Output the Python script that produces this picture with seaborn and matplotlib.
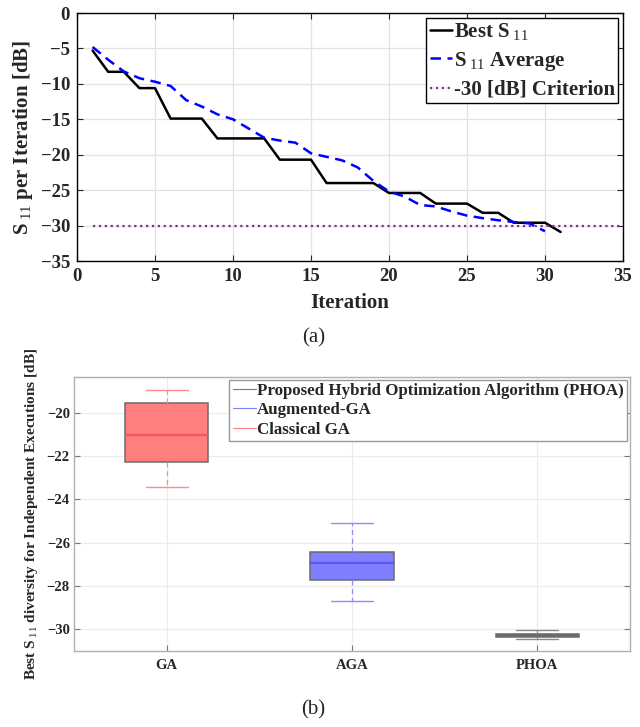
import numpy as np
import pandas as pd
import matplotlib
matplotlib.use("Agg")
import matplotlib.pyplot as plt
from matplotlib.lines import Line2D
import seaborn as sns

# ---- convergence history (panel a) ----
iterations = list(range(1, 32))
best_s11 = [-5.3, -8.3, -8.3, -10.6, -10.6, -14.9, -14.9, -14.9, -17.7, -17.7,
             -17.7, -17.7, -20.7, -20.7, -20.7, -24.0, -24.0, -24.0, -24.0, -25.4,
             -25.4, -25.4, -26.9, -26.9, -26.9, -28.2, -28.2, -29.6, -29.6, -29.6,
             -30.9]
avg_iterations = list(range(1, 31))
avg_s11 = [-4.8, -6.6, -8.25, -9.2, -9.7, -10.3, -12.3, -13.2, -14.3, -15.0,
           -16.3, -17.6, -18.0, -18.3, -19.8, -20.3, -20.8, -21.8, -23.7, -25.2,
           -25.9, -27.1, -27.3, -28.0, -28.6, -28.95, -29.25, -29.5, -29.7, -30.8]
criterion_span = [1, 35]
criterion_level = -30

# ---- spread of best S11 over independent runs (panel b) ----
algorithms = ["GA", "AGA", "PHOA"]
ga_runs = [-23.42, -22.27, -21.05, -19.57, -18.93]
aga_runs = [-28.67, -27.74, -26.92, -26.45, -25.10]
phoa_runs = [-30.45, -30.36, -30.28, -30.22, -30.03]
legend_names = ["Proposed Hybrid Optimization Algorithm (PHOA)",
                "Augmented-GA", "Classical GA"]

sns.set_style("ticks")
plt.rcParams["font.family"] = ["Liberation Serif", "DejaVu Serif"]
plt.rcParams["mathtext.fontset"] = "custom"
plt.rcParams["mathtext.rm"] = "Liberation Serif"
plt.rcParams["mathtext.it"] = "Liberation Serif:italic"
plt.rcParams["mathtext.bf"] = "Liberation Serif:bold"
plt.rcParams["mathtext.default"] = "rm"

fig = plt.figure(figsize=(6.4, 7.27), dpi=100)

# ================= panel (a) =================
ax1 = fig.add_axes([77 / 640, 1 - 261 / 727, 546 / 640, 248 / 727])
conv = pd.DataFrame({"it": iterations, "best": best_s11})
avg = pd.DataFrame({"it": avg_iterations, "avg": avg_s11})
crit = pd.DataFrame({"it": criterion_span, "c": [criterion_level] * 2})

sns.lineplot(data=conv, x="it", y="best", ax=ax1, color="black", lw=1.8,
             label=r"Best S$_{\ 11}$")
sns.lineplot(data=avg, x="it", y="avg", ax=ax1, color="blue", lw=1.8,
             label=r"S$_{\ 11}$ Average")
ax1.lines[-1].set_dashes([4.2, 2.6])
sns.lineplot(data=crit, x="it", y="c", ax=ax1, color="#7e2f8e", lw=1.6,
             label="-30 [dB] Criterion")
ax1.lines[-1].set_linestyle(":")

ax1.set_xlim(0, 35)
ax1.set_ylim(-35, 0)
ax1.set_xticks(np.arange(0, 36, 5))
ax1.set_yticks(np.arange(-35, 1, 5))
ax1.grid(True, color="#e2e2e2", lw=0.9)
ax1.set_axisbelow(True)
ax1.tick_params(direction="in", length=4, width=0.8, top=True, right=True,
                labelsize=13.5, pad=5)
for lab in ax1.get_xticklabels() + ax1.get_yticklabels():
    lab.set_fontweight("bold")
for sp in ax1.spines.values():
    sp.set_color("black")
    sp.set_linewidth(1.0)
ax1.set_xlabel("Iteration", fontsize=15, fontweight="bold", labelpad=6)
ax1.set_ylabel(r"S$_{\ 11}$ per Iteration [dB]", fontsize=15,
               fontweight="bold", labelpad=4)
leg1 = ax1.legend(loc="upper right", frameon=True, fancybox=False,
                  edgecolor="black", framealpha=1, handlelength=1.1,
                  handletextpad=0.05, borderpad=0.15, labelspacing=0.35,
                  borderaxespad=0.25, prop={"weight": "bold", "size": 15})
leg1.get_frame().set_linewidth(1.0)

# ================= panel (b) =================
ax2 = fig.add_axes([74 / 640, 1 - 651 / 727, 556 / 640, 274 / 727])
runs = pd.DataFrame({
    "algorithm": ["GA"] * len(ga_runs) + ["AGA"] * len(aga_runs)
                 + ["PHOA"] * len(phoa_runs),
    "s11": ga_runs + aga_runs + phoa_runs,
})
fills = {"GA": "#ff7f7f", "AGA": "#7f7fff", "PHOA": "#7f7f7f"}
lines = {"GA": "#ff8c8c", "AGA": "#8c8cff", "PHOA": "#8a8a8a"}
medians = {"GA": "#f25a5a", "AGA": "#5a5af2", "PHOA": "#6a6a6a"}

sns.boxplot(data=runs, x="algorithm", y="s11", hue="algorithm",
            order=algorithms, hue_order=algorithms, palette=fills,
            legend=False, whis=(0, 100), width=0.45, saturation=1,
            linecolor="#6b6b6b", linewidth=1.1, showfliers=False, ax=ax2)

for cont, name in zip(ax2.containers, algorithms):
    for w in cont.whiskers:
        w.set_color(lines[name])
        w.set_linestyle((0, (4, 3)))
        w.set_linewidth(0.9)
    for c in cont.caps:
        c.set_color(lines[name])
        c.set_linewidth(1.0)
    for m in cont.medians:
        m.set_color(medians[name])
        m.set_linewidth(1.6)
    for b in cont.boxes:
        b.set_edgecolor("#6b6b6b")

ax2.set_xlim(-0.5, 2.5)
ax2.set_ylim(-31.0, -18.35)
ax2.set_yticks(np.arange(-30, -19, 2))
ax2.grid(True, color="#ececec", lw=0.9)
ax2.set_axisbelow(True)
ax2.tick_params(direction="in", length=4, width=0.8, right=True, top=False,
                labelsize=10.5, pad=3, color="#777777")
ax2.tick_params(axis="x", pad=6)
for lab in ax2.get_xticklabels() + ax2.get_yticklabels():
    lab.set_fontweight("bold")
    lab.set_color("#262626")
for sp in ax2.spines.values():
    sp.set_color("#b0b0b0")
    sp.set_linewidth(1.0)
ax2.set_xlabel("")
ax2.set_ylabel(r"Best S$_{\ 11}$ diversity for Independent Executions [dB]",
               fontsize=11, fontweight="bold", labelpad=5)

handles = [Line2D([], [], color="#7a7a7a", lw=0.8),
           Line2D([], [], color="#8080ff", lw=0.8),
           Line2D([], [], color="#ff8080", lw=0.8)]
leg2 = ax2.legend(handles, legend_names, loc="upper right", frameon=True,
                  fancybox=False, edgecolor="#9a9a9a", framealpha=1,
                  handlelength=1.35, handletextpad=0.1, borderpad=0.2,
                  labelspacing=0.2, borderaxespad=0.15,
                  prop={"weight": "bold", "size": 12.2})
leg2.get_frame().set_linewidth(1.0)

# captions
fig.text(0.49, 1 - 338 / 727, "(a)", ha="center", va="center", fontsize=15)
fig.text(0.49, 1 - 710 / 727, "(b)", ha="center", va="center", fontsize=15)

fig.savefig("out.png", dpi=100)
